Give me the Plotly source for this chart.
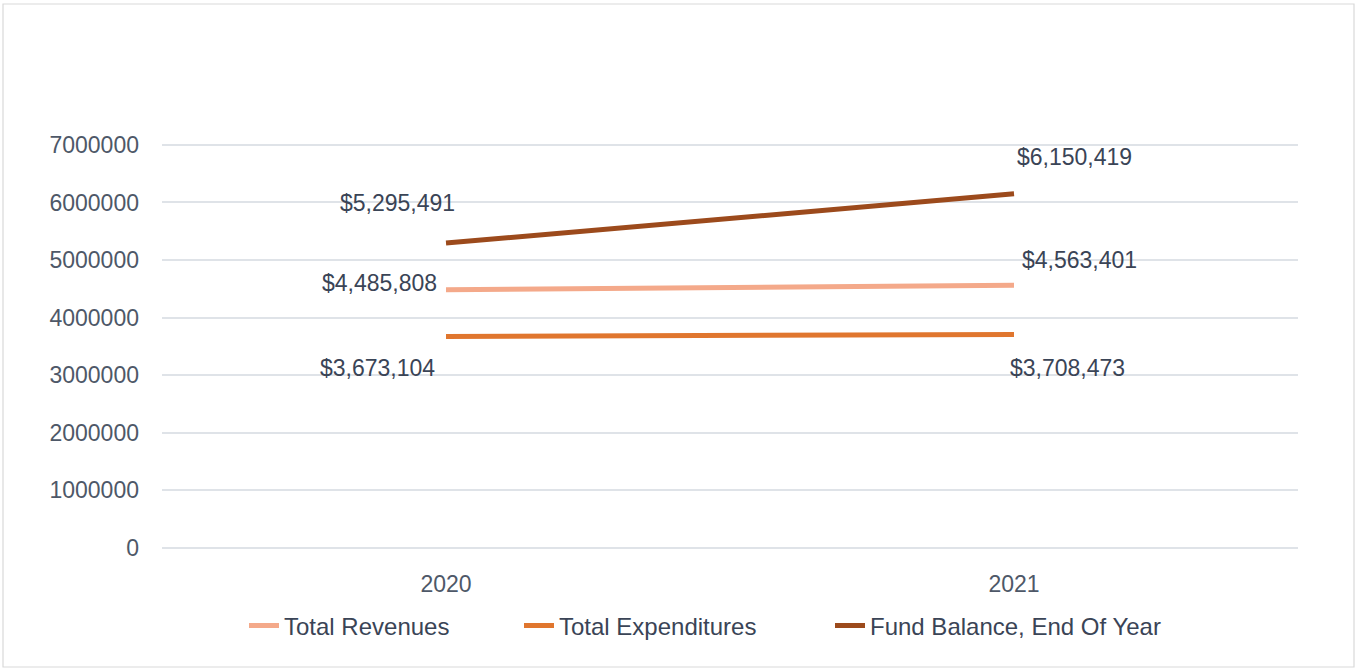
import plotly.graph_objects as go

years = ["2020", "2021"]
revenues = [4485808, 4563401]
expenditures = [3673104, 3708473]
fund_balance = [5295491, 6150419]
series_names = ["Total Revenues", "Total Expenditures", "Fund Balance, End Of Year"]
colors = ["#F4A98A", "#E0762E", "#9C4A1C"]
y_ticks = [0, 1000000, 2000000, 3000000, 4000000, 5000000, 6000000, 7000000]

W, H = 1359, 670
L, R, T, B = 162, 61, 142, 122
PW, PH = W - L - R, H - T - B
label_font = dict(family="Liberation Sans", size=23, color="#3A4456")
tick_font = dict(family="Liberation Sans", size=23, color="#4E5868")
legend_font = dict(family="Liberation Sans", size=24, color="#3A4456")

fig = go.Figure()
all_series = [revenues, expenditures, fund_balance]
legend_ids = ["legend", "legend2", "legend3"]
for name, vals, col, lg in zip(series_names, all_series, colors, legend_ids):
    fig.add_trace(go.Scatter(x=years, y=vals, mode="lines", name=name,
                             line=dict(color=col, width=5), legend=lg))

# label offsets (pixels) for each series / point
shifts = {
    0: [(-67, 7), (65, 25)],
    1: [(-69, -32), (53, -34)],
    2: [(-49, 40), (60, 37)],
}
for i, vals in enumerate(all_series):
    for j, v in enumerate(vals):
        dx, dy = shifts[i][j]
        fig.add_annotation(x=j, y=v, xref="x", yref="y", text="${:,}".format(v),
                           showarrow=False, xshift=dx, yshift=dy, font=label_font)

# outer border of the chart area
fig.add_shape(type="rect", xref="paper", yref="paper",
              x0=(3 - L) / PW, x1=(1354 - L) / PW,
              y0=((H - B) - 667) / PH, y1=((H - B) - 4) / PH,
              line=dict(color="#D9D9D9", width=1.2), layer="below")

leg_x = [244, 519, 830]
common_leg = dict(orientation="h", xref="paper", yref="paper",
                  xanchor="left", y=((H - B) - 626) / PH, yanchor="middle",
                  font=legend_font, bgcolor="rgba(0,0,0,0)")

fig.update_layout(
    width=W, height=H,
    margin=dict(l=L, r=R, t=T, b=B),
    paper_bgcolor="white", plot_bgcolor="white",
    showlegend=True,
    legend=dict(x=(leg_x[0] - L) / PW, **common_leg),
    legend2=dict(x=(leg_x[1] - L) / PW, **common_leg),
    legend3=dict(x=(leg_x[2] - L) / PW, **common_leg),
    xaxis=dict(type="category", range=[-0.5, 1.5], showgrid=False,
               showline=False, ticks="", tickfont=tick_font, ticklabelstandoff=20),
    yaxis=dict(range=[0, 7050000], tickvals=y_ticks, ticktext=[str(v) for v in y_ticks],
               showgrid=True, gridcolor="#DFE3E8", gridwidth=1.5, zeroline=True,
               zerolinecolor="#DFE3E8", zerolinewidth=1.5, showline=False, ticks="",
               tickfont=tick_font, ticklabelstandoff=22),
)

fig.write_html("out.html", config={"displayModeBar": False},
               post_script="document.body.style.margin='0';document.body.style.overflow='hidden';")
